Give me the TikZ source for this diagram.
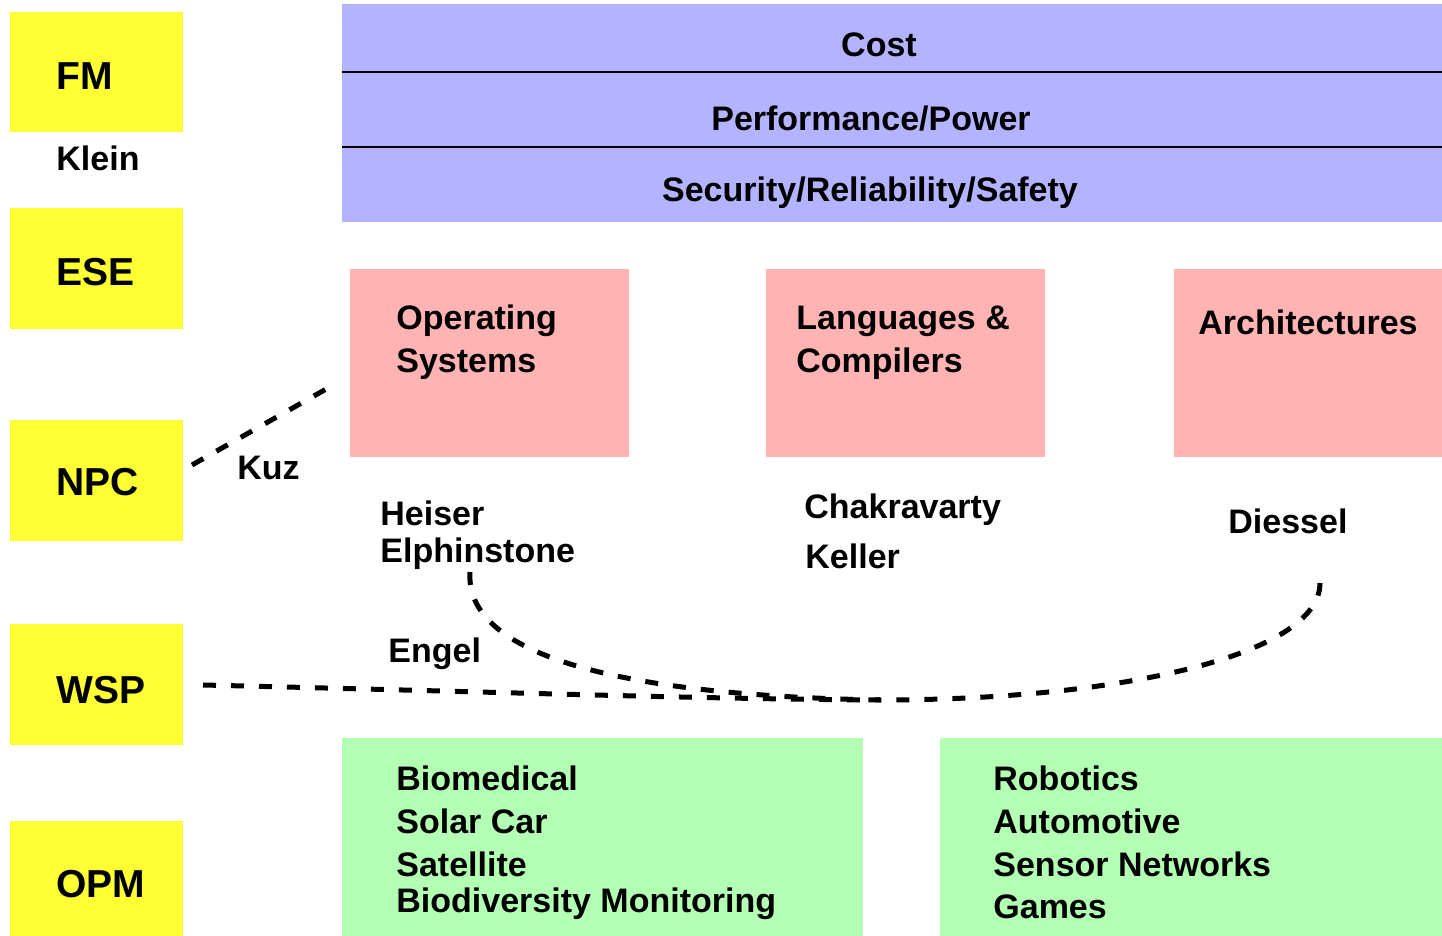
\documentclass[tikz,border=0pt]{standalone}
\usepackage{fontspec}
\setmainfont{Liberation Sans}
\begin{document}
\begin{tikzpicture}[x=0.5pt,y=-0.5pt,
  box/.style={anchor=north west,inner sep=0pt,outer sep=0pt,draw=none},
  yellowbox/.style={box,fill=areaYellow,minimum width=86.5pt,minimum height=#1},
  pinkbox/.style={box,fill=areaPink,minimum height=94pt},
  greenbox/.style={box,fill=areaGreen,minimum height=99pt},
  band/.style={box,fill=areaBlue,minimum width=550pt},
  tag/.style={anchor=base west,inner sep=0pt,font=\fontsize{19.5}{23}\selectfont\bfseries},
  txt/.style={anchor=base west,inner sep=0pt,font=\fontsize{17}{20}\selectfont\bfseries},
  ctxt/.style={txt,anchor=base},
  link/.style={draw=black,line width=2.5pt,dash pattern=on 6.5pt off 7.5pt}
]
\definecolor{areaYellow}{RGB}{255,255,51}
\definecolor{areaBlue}{RGB}{179,179,255}
\definecolor{areaPink}{RGB}{255,179,179}
\definecolor{areaGreen}{RGB}{179,255,179}
\useasboundingbox (0,0) rectangle (1442,936);

% research groups on the left
\node[yellowbox=60pt]   (fm)  at (10,12)  {};
\node[yellowbox=60.5pt] (ese) at (10,208) {};
\node[yellowbox=60.5pt] (npc) at (10,420) {};
\node[yellowbox=60.5pt] (wsp) at (10,624) {};
\node[yellowbox=57.5pt] (opm) at (10,821) {};
\node[tag] (fmt)  at (56,90)  {FM};
\node[tag] (eset) at (56,286) {ESE};
\node[tag] (npct) at (56,495) {NPC};
\node[tag] (wspt) at (56,703) {WSP};
\node[tag] (opmt) at (56,897) {OPM};
\node[txt] (klein) at (56,171) {Klein};

% cross-cutting concerns
\node[band,minimum height=34pt]   (cost) at (342,4)   {};
\node[band,minimum height=37.5pt] (perf) at (342,72)  {};
\node[band,minimum height=37.5pt] (sec)  at (342,147) {};
\draw[line width=1pt] (perf.north west) -- (perf.north east);
\draw[line width=1pt] (sec.north west) -- (sec.north east);
\node[ctxt] (costt) at (879,57)  {Cost};
\node[ctxt] (perft) at (871,131) {Performance/Power};
\node[ctxt] (sect)  at (870,202) {Security/Reliability/Safety};

% system layers
\node[pinkbox,minimum width=139.5pt] (os)   at (350,269)  {};
\node[pinkbox,minimum width=139.5pt] (lang) at (766,269)  {};
\node[pinkbox,minimum width=134pt]   (arch) at (1174,269) {};
\node[txt] (os1)   at (396,330)  {Operating};
\node[txt] (os2)   at (396,373)  {Systems};
\node[txt] (lang1) at (796,330)  {Languages \&};
\node[txt] (lang2) at (796,373)  {Compilers};
\node[txt] (arch1) at (1198,335) {Architectures};

% people
\node[txt] (kuz)     at (237,480)  {Kuz};
\node[txt] (heiser)  at (380,525)  {Heiser};
\node[txt] (elph)    at (380,562)  {Elphinstone};
\node[txt] (chak)    at (804,518)  {Chakravarty};
\node[txt] (keller)  at (805,568)  {Keller};
\node[txt] (diessel) at (1228,533) {Diessel};
\node[txt] (engel)   at (388,662)  {Engel};

% application domains
\node[greenbox,minimum width=260.5pt] (appl) at (342,738) {};
\node[greenbox,minimum width=251pt]   (appr) at (940,738) {};
\node[txt] (a1) at (396,790) {Biomedical};
\node[txt] (a2) at (396,833) {Solar Car};
\node[txt] (a3) at (396,876) {Satellite};
\node[txt] (a4) at (396,912) {Biodiversity Monitoring};
\node[txt] (b1) at (993,790) {Robotics};
\node[txt] (b2) at (993,833) {Automotive};
\node[txt] (b3) at (993,876) {Sensor Networks};
\node[txt] (b4) at (993,918) {Games};

% dashed links
\coordinate (kuzA) at (192,465);
\coordinate (kuzB) at (328,388);
\coordinate (wspA) at (203,685);
\coordinate (heiA) at (470,572);
\coordinate (low)  at (880,700);
\coordinate (dieA) at (1320,583);
\draw[link] (kuzA) -- (kuzB);
\draw[link] (wspA) .. controls (500,692) and (700,699) .. (low);
\draw[link] (heiA) .. controls (465,650) and (600,695) .. (low)
            .. controls (1120,700) and (1320,655) .. (dieA);
\end{tikzpicture}
\end{document}
